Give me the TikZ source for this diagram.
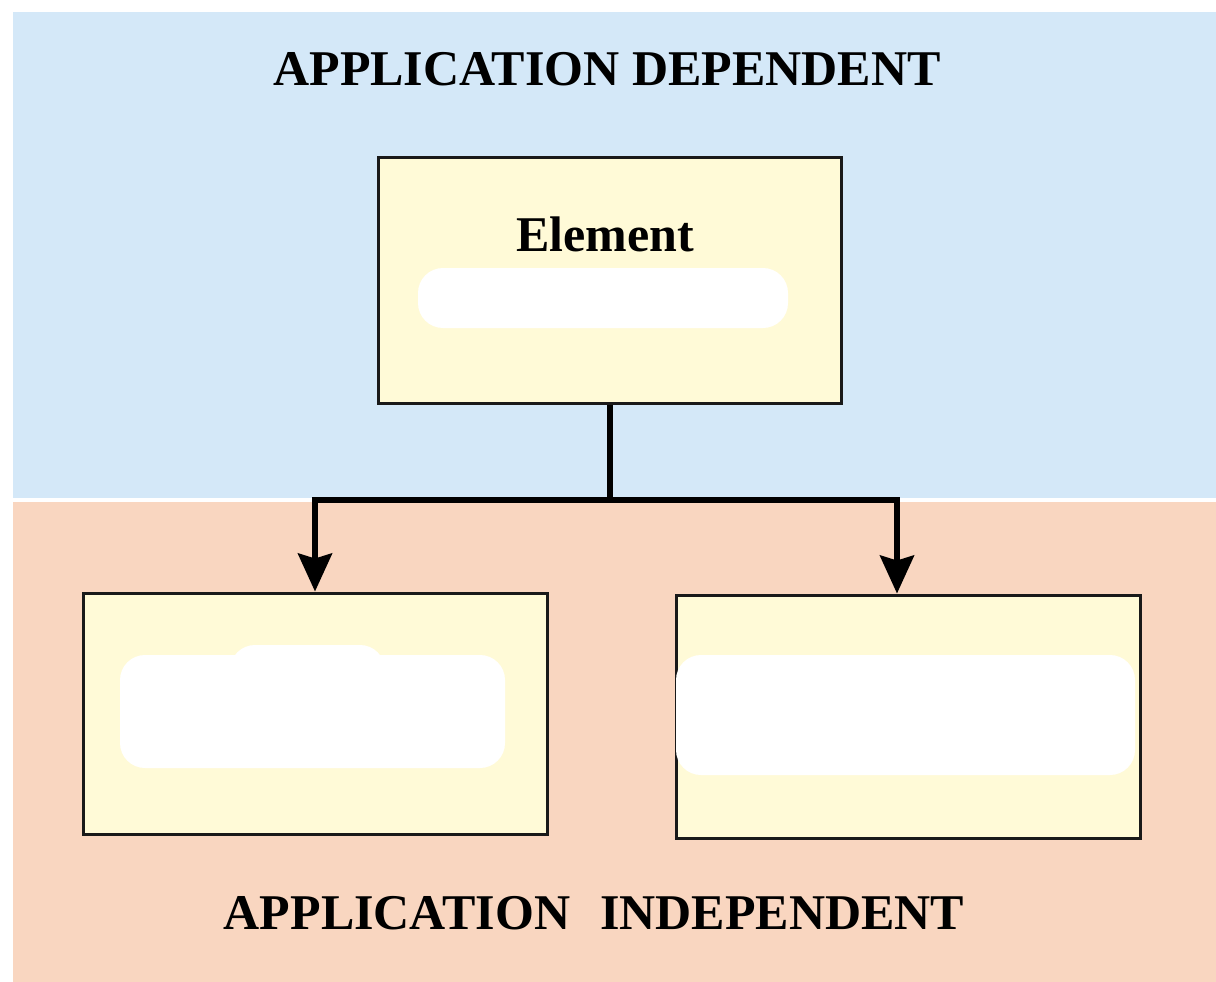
\documentclass[tikz,border=0pt]{standalone}
\usepackage{fontspec}
\setmainfont{Liberation Serif}
\usetikzlibrary{arrows.meta}
\definecolor{bgblue}{RGB}{212,232,248}
\definecolor{bgsalmon}{RGB}{249,214,192}
\definecolor{boxcream}{RGB}{255,250,215}
\tikzset{
  box/.style={draw=black!90, line width=3pt, fill=boxcream, inner sep=0pt},
  title/.style={font=\fontsize{50}{56}\selectfont\bfseries, inner sep=0pt},
  conn/.style={line width=5.5pt, draw=black, line join=miter},
  arr/.style={conn, -{Stealth[length=38pt, width=34pt, inset=5pt]}},
  blob/.style={fill=white, draw=none, rounded corners=25pt}
}
\begin{document}
\begin{tikzpicture}[x=1pt,y=-1pt]
\useasboundingbox (0,0) rectangle (1216,982);
\fill[white] (0,0) rectangle (1216,982);
\fill[bgblue] (13,12) rectangle (1216,498);
\fill[bgsalmon] (13,502) rectangle (1216,982);

\node[title] (dep) at (607,69) {APPLICATION DEPENDENT};
\node[title] (indep) at (594,913) {APPLICATION\hspace{0.35em} INDEPENDENT};

\node[box, minimum width=463pt, minimum height=246pt] (top) at (610,280) {};
\node[font=\fontsize{50}{56}\selectfont\bfseries, inner sep=0pt] (elem) at (605,234) {Element};
\node[box, minimum width=464pt, minimum height=241pt] (left) at (315,713.5) {};
\node[box, minimum width=464pt, minimum height=243pt] (right) at (908,716.5) {};

\fill[blob] (418,268) rectangle (788,328);
\fill[blob] (120,655) rectangle (505,768);
\fill[blob] (230,645) rectangle (385,700);
\fill[blob] (676,655) rectangle (1135,775);

\coordinate (j) at (610,500);
\coordinate (jl) at (315,500);
\coordinate (jr) at (897,500);
\draw[conn] (top.south) -- (j);
\draw[arr] (j) -- (jl) -- (jl |- left.north);
\draw[arr] (j) -- (jr) -- (jr |- right.north);
\end{tikzpicture}
\end{document}
